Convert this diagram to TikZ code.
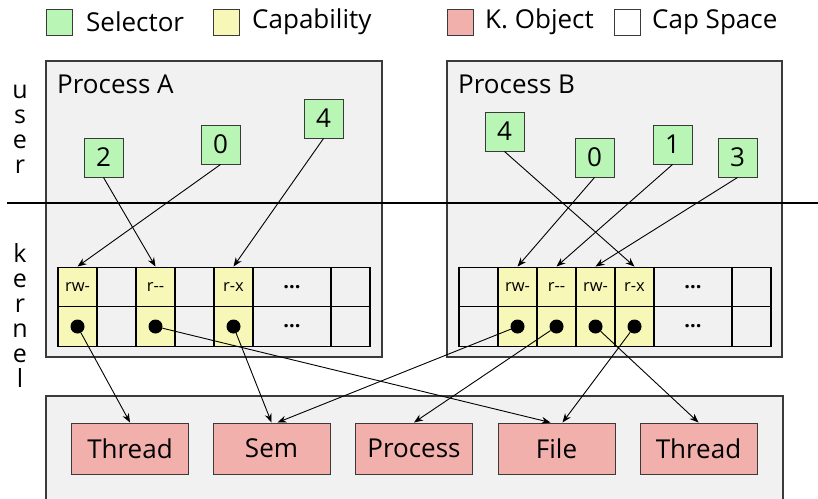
\documentclass[tikz,border=0pt]{standalone}
\usepackage{fontspec}
\setmainfont{Open Sans}
\usetikzlibrary{arrows.meta,calc}
\definecolor{selc}{HTML}{B9F6B6}
\definecolor{capc}{HTML}{F7F8B7}
\definecolor{objc}{HTML}{F2B0AC}
\definecolor{boxc}{HTML}{F1F1F1}
\definecolor{edgec}{HTML}{3A3A3A}
\begin{document}
\begin{tikzpicture}[x=1pt,y=-1pt,
  region/.style={draw=edgec, fill=boxc, line width=1.1pt},
  lbl/.style={font=\fontsize{26}{30}\selectfont, inner sep=0pt},
  letter/.style={font=\fontsize{25}{25}\selectfont, inner sep=0pt, anchor=base},
  legbox/.style={draw=edgec, line width=1pt, minimum size=26pt, inner sep=0pt},
  sel/.style={draw=edgec, fill=selc, line width=1pt, minimum size=39pt, inner sep=0pt, font=\fontsize{26}{30}\selectfont},
  cell/.style={draw=black, line width=1.4pt, minimum width=39pt, minimum height=39.5pt, inner sep=0pt, font=\fontsize{16.5}{18}\selectfont},
  capcell/.style={cell, fill=capc},
  widecell/.style={cell, minimum width=78pt, font=\fontsize{20}{22}\selectfont\bfseries},
  obj/.style={draw=edgec, fill=objc, line width=1pt, minimum width=117pt, minimum height=51pt, inner sep=0pt, font=\fontsize{26}{30}\selectfont},
  capdot/.style={circle, fill=black, minimum size=14pt, inner sep=0pt},
  conn/.style={-{Stealth[length=9pt,width=7pt]}, line width=0.9pt}
]
\useasboundingbox (0,0) rectangle (818,498);

% regions
\draw[region] (46,61) rectangle (382,357);
\draw[region] (447,61) rectangle (782,357);
\draw[region] (46,396) rectangle (783,510);
\draw[line width=2pt] (7,203) -- (818,203);

% legend
\node[legbox, fill=selc] (lg1) at (59,22) {};
\node[lbl, anchor=west] (lt1) at (86,22) {Selector};
\node[legbox, fill=capc] (lg2) at (226.5,22) {};
\node[lbl, anchor=west] (lt2) at (252,22) {Capability};
\node[legbox, fill=objc] (lg3) at (460,22) {};
\node[lbl, anchor=west] (lt3) at (485,22) {K. Object};
\node[legbox, fill=white] (lg4) at (627.5,22) {};
\node[lbl, anchor=west] (lt4) at (652,22) {Cap Space};

% user / kernel
\node[letter] (u1) at (20,98) {u};
\node[letter] (u2) at (20,123) {s};
\node[letter] (u3) at (20,148) {e};
\node[letter] (u4) at (20,173) {r};
\node[letter] (k1) at (20,262) {k};
\node[letter] (k2) at (20,287) {e};
\node[letter] (k3) at (20,312) {r};
\node[letter] (k4) at (20,337) {n};
\node[letter] (k5) at (20,362) {e};
\node[letter] (k6) at (20,387) {l};

% process labels
\node[lbl, anchor=base west] (pA) at (57,93) {Process A};
\node[lbl, anchor=base west] (pB) at (458,93) {Process B};

% cap table A
\node[capcell] (aT0) at (77.5,287) {rw-};
\node[cell]    (aT1) at (116.5,287) {};
\node[capcell] (aT2) at (155.5,287) {r-{}-};
\node[cell]    (aT3) at (194.5,287) {};
\node[capcell] (aT4) at (233.5,287) {r-x};
\node[widecell] (aT5) at (292,287) {...};
\node[cell]    (aT6) at (350.5,287) {};
\node[capcell] (aB0) at (77.5,326.5) {};
\node[cell]    (aB1) at (116.5,326.5) {};
\node[capcell] (aB2) at (155.5,326.5) {};
\node[cell]    (aB3) at (194.5,326.5) {};
\node[capcell] (aB4) at (233.5,326.5) {};
\node[widecell] (aB5) at (292,326.5) {...};
\node[cell]    (aB6) at (350.5,326.5) {};

% cap table B
\node[cell]    (bT0) at (478.5,287) {};
\node[capcell] (bT1) at (517.5,287) {rw-};
\node[capcell] (bT2) at (556.5,287) {r-{}-};
\node[capcell] (bT3) at (595.5,287) {rw-};
\node[capcell] (bT4) at (634.5,287) {r-x};
\node[widecell] (bT5) at (693,287) {...};
\node[cell]    (bT6) at (751.5,287) {};
\node[cell]    (bB0) at (478.5,326.5) {};
\node[capcell] (bB1) at (517.5,326.5) {};
\node[capcell] (bB2) at (556.5,326.5) {};
\node[capcell] (bB3) at (595.5,326.5) {};
\node[capcell] (bB4) at (634.5,326.5) {};
\node[widecell] (bB5) at (693,326.5) {...};
\node[cell]    (bB6) at (751.5,326.5) {};

% dots
\node[capdot] (da0) at (aB0) {};
\node[capdot] (da2) at (aB2) {};
\node[capdot] (da4) at (aB4) {};
\node[capdot] (db1) at (bB1) {};
\node[capdot] (db2) at (bB2) {};
\node[capdot] (db3) at (bB3) {};
\node[capdot] (db4) at (bB4) {};

% selectors
\node[sel] (sa2) at (103.5,157.5) {2};
\node[sel] (sa0) at (220.5,144.5) {0};
\node[sel] (sa4) at (323.5,118.5) {4};
\node[sel] (sb4) at (504.5,131.5) {4};
\node[sel] (sb0) at (594.5,157.5) {0};
\node[sel] (sb1) at (672.5,144.5) {1};
\node[sel] (sb3) at (737.5,157.5) {3};

% kernel objects
\node[obj] (thr1) at (130,448.5) {Thread};
\node[obj] (sem) at (271.5,448.5) {Sem};
\node[obj] (proc) at (414,448.5) {Process};
\node[obj] (file) at (556.5,448.5) {File};
\node[obj] (thr2) at (698.5,448.5) {Thread};

% selector -> capability
\draw[conn] (sa2.south) -- (aT2.north);
\draw[conn] (sa0.south) -- (aT0.north);
\draw[conn] (sa4.south) -- (aT4.north);
\draw[conn] (sb4.south) -- (bT4.north);
\draw[conn] (sb0.south) -- (bT1.north);
\draw[conn] (sb1.south) -- (bT2.north);
\draw[conn] (sb3.south) -- (bT3.north);

% capability -> object
\draw[conn] (da0) -- (thr1.north);
\draw[conn] (da2) -- ($(file.north)+(-6,0)$);
\draw[conn] (da4) -- (sem.north);
\draw[conn] (db1) -- ($(sem.north)+(6,0)$);
\draw[conn] (db2) -- (proc.north);
\draw[conn] (db3) -- (thr2.north);
\draw[conn] (db4) -- ($(file.north)+(6,0)$);
\end{tikzpicture}
\end{document}
